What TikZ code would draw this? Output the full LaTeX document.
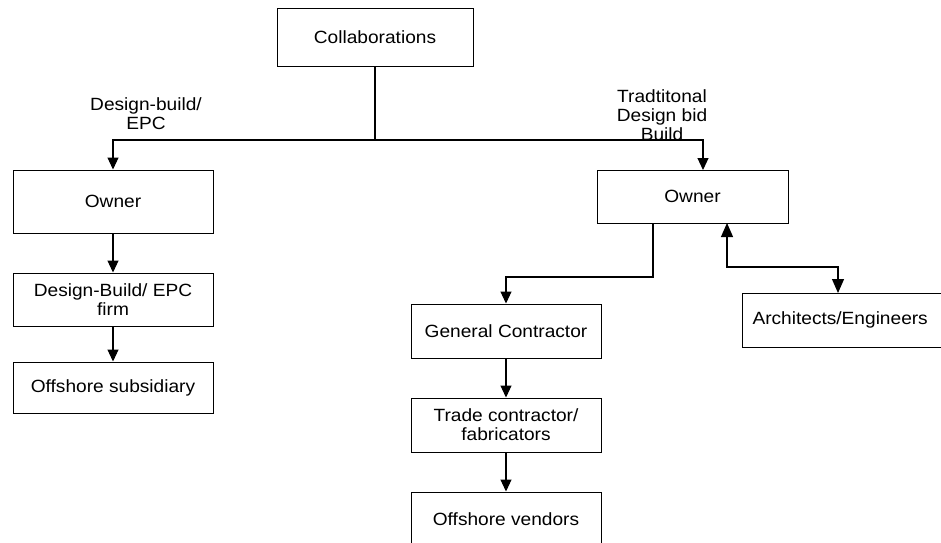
\documentclass[tikz,border=0pt]{standalone}
\usepackage{fontspec}
\setmainfont{Liberation Sans}[FakeStretch=1.08]
\usetikzlibrary{arrows.meta,calc}
\begin{document}
\begin{tikzpicture}[x=1pt,y=-1pt,
  box/.style={draw,line width=1pt,minimum width=196pt,minimum height=54pt,inner sep=0pt,align=center,font=\fontsize{17.7}{19}\selectfont},
  lbl/.style={align=center,inner sep=0pt,font=\fontsize{17.7}{19}\selectfont},
  conn/.style={line width=1.1pt},
  arr/.style={conn,-{Triangle[width=11pt,length=12pt]}},
  arrb/.style={conn,{Triangle[width=12pt,length=14pt]}-{Triangle[width=12pt,length=14pt]}}]
\useasboundingbox (0,0) rectangle (941,542);
\clip (0,0) rectangle (941,542);
\node[box,minimum width=196pt,minimum height=58pt] (collab) at (375,37) {Collaborations};
\node[box,minimum width=200pt,minimum height=63pt] (ownerL) at (113,201.5) {Owner};
\node[box,minimum width=200pt,minimum height=53pt] (db) at (113,299.5) {Design-Build/ EPC\\firm};
\node[box,minimum width=200pt,minimum height=51pt] (offsub) at (113,387.5) {Offshore subsidiary};
\node[box,minimum width=191pt,minimum height=53pt] (ownerR) at (692.5,196.5) {Owner};
\node[box,minimum width=190pt,minimum height=54pt] (gc) at (506,331) {General Contractor};
\node[box,minimum width=190pt,minimum height=54pt] (trade) at (506,425) {Trade contractor/\\fabricators};
\node[box,minimum width=190pt,minimum height=54pt] (offv) at (506,519) {Offshore vendors};
\node[box,anchor=west,minimum height=54pt,text width=200pt,inner xsep=10pt,align=left] (ae) at (742,320) {Architects/Engineers};
\node[lbl] (lblL) at (146,114) {Design-build/\\EPC};
\node[lbl] (lblR) at (662,115) {Tradtitonal\\Design bid\\Build};
\coordinate (j) at (375,140);
\coordinate (rin) at (703,170);
\coordinate (rout) at (653,223);
\coordinate (aeup) at (727,223);
\coordinate (aein) at (838,293);
\draw[conn] (collab.south) -- (j);
\draw[arr] (j) -| (ownerL.north);
\draw[arr] (j) -| (rin);
\draw[arr] (ownerL) -- (db);
\draw[arr] (db) -- (offsub);
\draw[arr] (rout) -- ++(0,54) -| (gc.north);
\draw[arr] (gc) -- (trade);
\draw[arr] (trade) -- (offv);
\draw[arrb] (aeup) -- ++(0,44) -| (aein);
\end{tikzpicture}
\end{document}
